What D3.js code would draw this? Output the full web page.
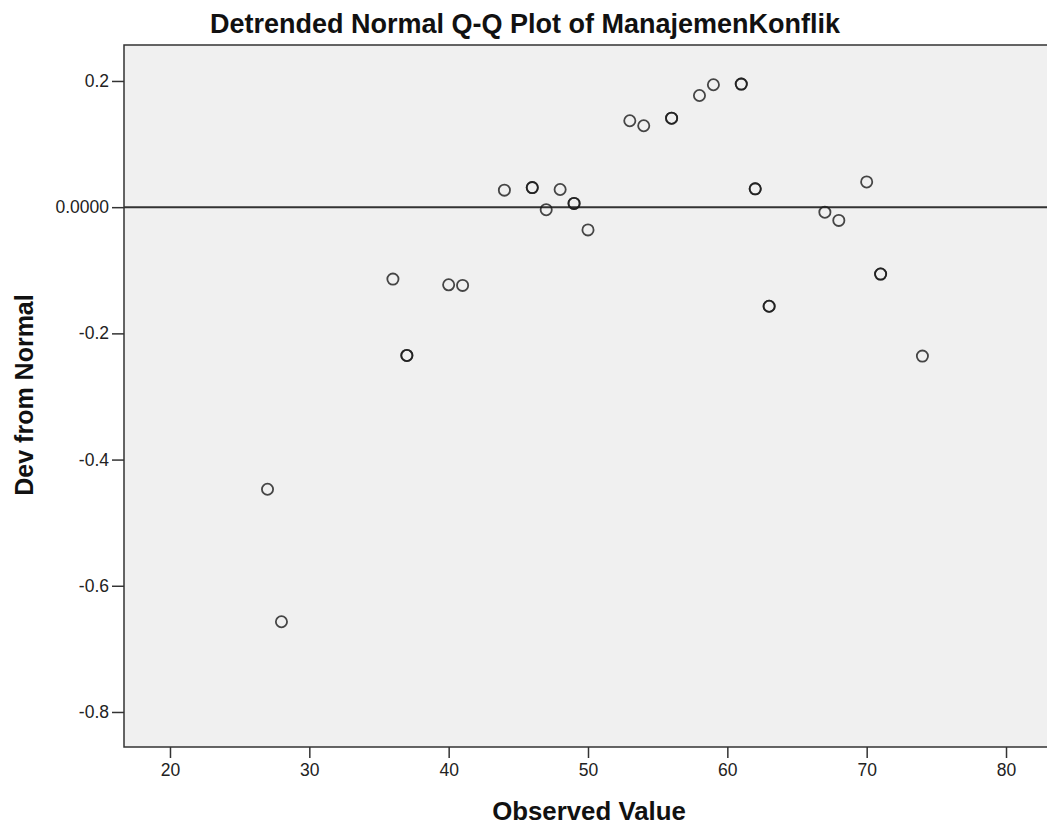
<!DOCTYPE html>
<html>
<head>
<meta charset="utf-8">
<style>
  body { margin: 0; background: #fff; }
  svg { display: block; font-family: "Liberation Sans", Arial, sans-serif; }
</style>
</head>
<body>
<svg width="1047" height="827"></svg>
<script src="https://cdn.jsdelivr.net/npm/d3@7"></script>
<script>
var observed  = [27, 28, 36, 37, 40, 41, 44, 46, 47, 48, 49, 50, 53, 54, 56, 58, 59, 61, 62, 63, 67, 68, 70, 71, 74];
var deviation = [-0.447, -0.657, -0.114, -0.235, -0.123, -0.124, 0.027, 0.031, -0.004, 0.028, 0.006, -0.036,
                 0.137, 0.129, 0.141, 0.177, 0.194, 0.195, 0.029, -0.157, -0.008, -0.021, 0.040, -0.106, -0.236];
// number of cases at each point (overlapping markers look darker)
var freq      = [1, 1, 1, 2, 1, 1, 1, 2, 1, 1, 2, 1, 1, 1, 2, 1, 1, 2, 2, 2, 1, 1, 1, 2, 1];
var xTicks = [20, 30, 40, 50, 60, 70, 80];
var yTicks = [0.2, 0, -0.2, -0.4, -0.6, -0.8];

var svg = d3.select("svg");
var plotL = 124, plotT = 45, plotR = 1052, plotB = 747;

var x = d3.scaleLinear().domain([16.7, 83.3]).range([plotL, plotR]);
var y = d3.scaleLinear().domain([0.257, -0.8555]).range([plotT, plotB]);

// plot background
svg.append("rect")
    .attr("x", plotL).attr("y", plotT)
    .attr("width", plotR - plotL).attr("height", plotB - plotT)
    .attr("fill", "#f0f0f0")
    .attr("stroke", "#333").attr("stroke-width", 1.5);

// axes (SPSS style labels use a plain hyphen for minus)
var yFmt = function(d){ return d === 0 ? "0.0000" : d.toFixed(1); };
var xAxis = svg.append("g")
    .attr("transform", "translate(0," + plotB + ")")
    .call(d3.axisBottom(x).tickValues(xTicks).tickSize(11).tickPadding(6));
var yAxis = svg.append("g")
    .attr("transform", "translate(" + plotL + ",0)")
    .call(d3.axisLeft(y).tickValues(yTicks).tickSize(12).tickPadding(3).tickFormat(yFmt));

[xAxis, yAxis].forEach(function(g){
  g.select(".domain").remove();
  g.selectAll("line").attr("stroke", "#333").attr("stroke-width", 1.5);
  g.selectAll("text").attr("fill", "#222").style("font-size", "17.5px")
    .style("font-family", "'Liberation Sans', Arial, sans-serif");
});

// zero reference line
svg.append("line")
    .attr("x1", plotL).attr("x2", plotR)
    .attr("y1", y(0)).attr("y2", y(0))
    .attr("stroke", "#333").attr("stroke-width", 2);

// markers
var pts = [];
observed.forEach(function(v, i){
  for (var k = 0; k < freq[i]; k++) pts.push([v, deviation[i]]);
});
svg.append("g").selectAll("circle")
  .data(pts)
  .join("circle")
    .attr("cx", function(d){ return x(d[0]); })
    .attr("cy", function(d){ return y(d[1]); })
    .attr("r", 5.6)
    .attr("fill", "none")
    .attr("stroke", "#1a1a1a")
    .attr("stroke-opacity", 0.8)
    .attr("stroke-width", 1.8);

// titles
svg.append("text")
    .attr("x", 525).attr("y", 33)
    .attr("text-anchor", "middle")
    .style("font-size", "27px").style("font-weight", "bold")
    .attr("fill", "#111")
    .text("Detrended Normal Q-Q Plot of ManajemenKonflik");

svg.append("text")
    .attr("x", 589).attr("y", 820)
    .attr("text-anchor", "middle")
    .style("font-size", "25.8px").style("font-weight", "bold")
    .attr("fill", "#111")
    .text("Observed Value");

svg.append("text")
    .attr("transform", "translate(33,395) rotate(-90)")
    .attr("text-anchor", "middle")
    .style("font-size", "25px").style("font-weight", "bold")
    .attr("fill", "#111")
    .text("Dev from Normal");
</script>
</body>
</html>
